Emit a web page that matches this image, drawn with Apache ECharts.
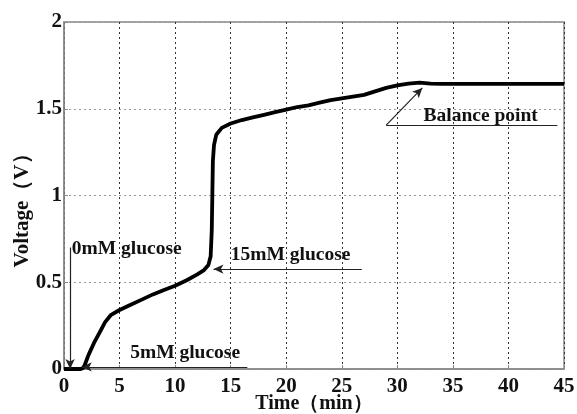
<!DOCTYPE html>
<html>
<head>
<meta charset="utf-8">
<script src="https://cdn.jsdelivr.net/npm/echarts@6/dist/echarts.min.js"></script>
<style>html,body{margin:0;padding:0;background:#fff}#c{width:577px;height:414px}</style>
</head>
<body>
<div id="c"></div>
<script>
// ---- data ----
const timeMin = [0, 0.5, 1.0, 1.5, 1.7, 1.85, 2.2, 2.7, 3.2, 3.7, 4.2, 5, 6, 7, 8, 9, 10, 11, 12, 12.6, 13.0, 13.2, 13.3, 13.35, 13.4, 13.5, 13.7, 14.2, 15, 16, 17, 18, 19, 20, 21, 22, 23, 24, 25, 26, 27, 28, 29, 30, 31, 32, 33, 34, 36, 40, 45];
const voltage = [0, 0, 0, 0, 0.005, 0.02, 0.08, 0.15, 0.21, 0.27, 0.31, 0.34, 0.37, 0.40, 0.43, 0.455, 0.48, 0.51, 0.545, 0.57, 0.60, 0.65, 0.80, 1.00, 1.20, 1.29, 1.35, 1.39, 1.415, 1.435, 1.45, 1.465, 1.48, 1.495, 1.51, 1.52, 1.535, 1.55, 1.56, 1.57, 1.58, 1.60, 1.62, 1.635, 1.645, 1.65, 1.645, 1.643, 1.643, 1.643, 1.643];
const xTicks = [0, 5, 10, 15, 20, 25, 30, 35, 40, 45];
const yTicks = [0, 0.5, 1, 1.5, 2];
const annotationTexts = ['0mM glucose', '5mM glucose', '15mM glucose', 'Balance point'];
// annotation anchors (data space): [textX, textY]
const annotationAnchors = [[0.7, 0.69], [10.9, 0.09], [20.4, 0.655], [37.5, 1.46]];
// arrow segments (data space): [fromX, fromY, toX, toY]
const arrows = [
  [0.55, 0.70, 0.55, 0.0],
  [16.5, 0.012, 1.6, 0.012],
  [26.8, 0.576, 13.45, 0.576],
  [29.0, 1.406, 32.25, 1.62]
];
const plainLines = [[29.0, 1.406, 44.4, 1.406]];

const serif = '"Liberation Serif", "Times New Roman", serif';
const chart = echarts.init(document.getElementById('c'), null, {renderer: 'canvas'});

const markLineData = arrows.map(a => [
  {coord: [a[0], a[1]], symbol: 'none'},
  {coord: [a[2], a[3]], symbol: 'arrow', symbolSize: [7, 10]}
]).concat(plainLines.map(a => [
  {coord: [a[0], a[1]], symbol: 'none'},
  {coord: [a[2], a[3]], symbol: 'none'}
]));

const markPointData = annotationTexts.map((t, i) => ({
  coord: annotationAnchors[i],
  value: t,
  symbolSize: 0,
  label: {
    show: true, formatter: t,
    position: i === 0 ? 'right' : 'inside',
    distance: 0,
    color: '#111', fontFamily: serif, fontWeight: 'bold', fontSize: 19.5
  }
}));

chart.setOption({
  animation: false,
  backgroundColor: '#fff',
  grid: {left: 64, right: 13, top: 22, bottom: 45, containLabel: false, outerBoundsMode: 'none',
    show: true, borderColor: '#888', borderWidth: 1.5, backgroundColor: 'transparent'},
  xAxis: {
    type: 'value', min: 0, max: 45, interval: 5,
    name: 'Time（min）', nameLocation: 'middle', nameGap: 25, nameMoveOverlap: false,
    nameTextStyle: {fontFamily: serif, fontWeight: 'bold', fontSize: 20, color: '#111'},
    axisLine: {show: true, lineStyle: {color: '#888', width: 1.5}},
    axisTick: {show: true, inside: true, length: 4, lineStyle: {color: '#888'}},
    axisLabel: {fontFamily: serif, fontWeight: 'bold', fontSize: 21, color: '#111', margin: 7,
      formatter: v => xTicks.includes(v) ? String(v) : ''},
    splitLine: {show: true, lineStyle: {color: '#333', type: [2, 3], width: 1}}
  },
  yAxis: {
    type: 'value', min: 0, max: 2, interval: 0.5,
    name: 'Voltage（V）', nameLocation: 'middle', nameGap: 31, nameMoveOverlap: false,
    nameTextStyle: {fontFamily: serif, fontWeight: 'bold', fontSize: 21, color: '#111', padding: [0, 20, 0, 0]},
    axisLine: {show: true, lineStyle: {color: '#888', width: 1.5}},
    axisTick: {show: true, inside: true, length: 4, lineStyle: {color: '#888'}},
    axisLabel: {fontFamily: serif, fontWeight: 'bold', fontSize: 21, color: '#111', margin: 2,
      formatter: v => yTicks.includes(v) ? String(v) : ''},
    splitLine: {show: true, lineStyle: {color: '#999', type: [2, 3], width: 1}}
  },
  series: [{
    type: 'line',
    data: timeMin.map((t, i) => [t, voltage[i]]),
    showSymbol: false,
    lineStyle: {color: '#000', width: 3.8},
    z: 3,
    markLine: {
      silent: true,
      animation: false,
      label: {show: false},
      lineStyle: {color: '#222', width: 1.2, type: 'solid'},
      data: markLineData
    },
    markPoint: {
      silent: true,
      animation: false,
      data: markPointData
    }
  }]
});
</script>
</body>
</html>
